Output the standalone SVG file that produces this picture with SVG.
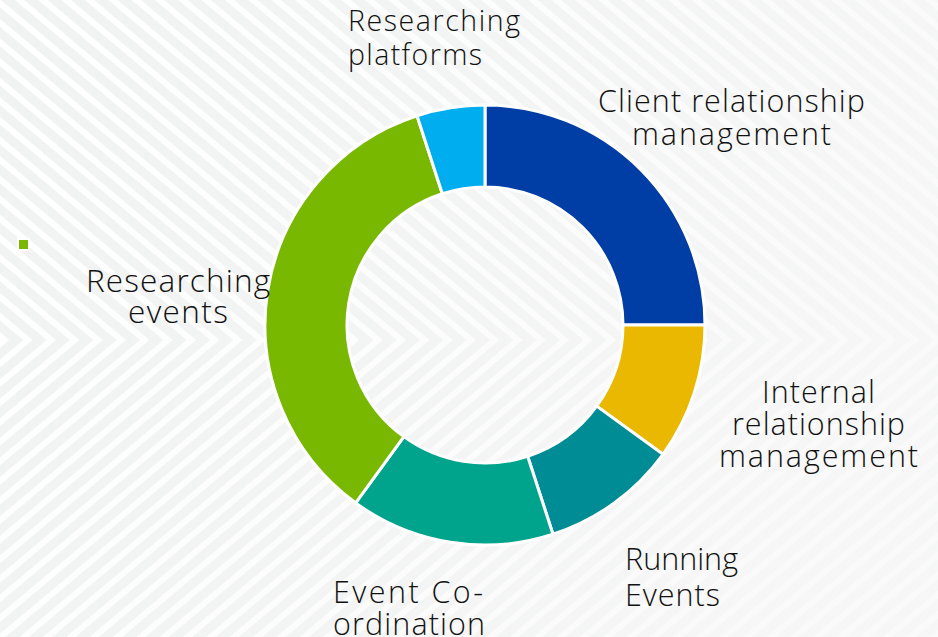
<svg xmlns="http://www.w3.org/2000/svg" width="938" height="637" viewBox="0 0 938 637">
  <defs>
    <pattern id="stripeTop" width="15" height="15" patternUnits="userSpaceOnUse" patternTransform="translate(0,340) rotate(-50)">
      <rect x="0" y="0" width="6" height="15" fill="#ffffff"/>
    </pattern>
    <pattern id="stripeBot" width="15" height="15" patternUnits="userSpaceOnUse" patternTransform="translate(0,340) rotate(50)">
      <rect x="0" y="0" width="6" height="15" fill="#ffffff"/>
    </pattern>
    <linearGradient id="fade" x1="0" y1="0" x2="1" y2="0.3">
      <stop offset="0" stop-color="#f7f7f7" stop-opacity="0"/>
      <stop offset="0.55" stop-color="#f7f7f7" stop-opacity="0.35"/>
      <stop offset="1" stop-color="#f8f8f8" stop-opacity="0.75"/>
    </linearGradient>
    <style>
      .lbl { font-family: "Open Sans", "Liberation Sans", sans-serif; font-weight: 300; font-size: 30.5px; fill: #111111; }
      .sm { font-size: 28.5px; }
      .lg { font-size: 31.5px; }
      .seg { stroke: #ffffff; stroke-width: 3; stroke-linejoin: miter; }
    </style>
  </defs>

  <!-- background -->
  <rect x="0" y="0" width="938" height="637" fill="#f1f2f2"/>
  <rect x="0" y="0" width="938" height="340" fill="url(#stripeTop)"/>
  <rect x="0" y="340" width="938" height="297" fill="url(#stripeBot)"/>
  <rect x="0" y="0" width="938" height="637" fill="url(#fade)"/>

  <!-- donut segments -->
  <g id="seg-client">
    <path class="seg" fill="#003da5" d="M485,105 A220,220 0 0 1 705,325 L623,325 A138,138 0 0 0 485,187 Z"/>
  </g>
  <g id="seg-internal">
    <path class="seg" fill="#eab800" d="M705,325 A220,220 0 0 1 662.98,454.32 L596.64,406.12 A138,138 0 0 0 623,325 Z"/>
  </g>
  <g id="seg-running">
    <path class="seg" fill="#008c95" d="M662.98,454.32 A220,220 0 0 1 552.98,534.24 L527.64,456.25 A138,138 0 0 0 596.64,406.12 Z"/>
  </g>
  <g id="seg-coordination">
    <path class="seg" fill="#00a38b" d="M552.98,534.24 A220,220 0 0 1 355.68,502.98 L403.88,436.64 A138,138 0 0 0 527.64,456.25 Z"/>
  </g>
  <g id="seg-events">
    <path class="seg" fill="#78b800" d="M355.68,502.98 A220,220 0 0 1 417.02,115.76 L442.36,193.75 A138,138 0 0 0 403.88,436.64 Z"/>
  </g>
  <g id="seg-platforms">
    <path class="seg" fill="#00aeef" d="M417.02,115.76 A220,220 0 0 1 485,105 L485,187 A138,138 0 0 0 442.36,193.75 Z"/>
  </g>

  <!-- legend marker -->
  <g id="legend-marker">
    <rect x="18" y="239" width="11" height="11" fill="#78b800" stroke="#ffffff" stroke-width="2"/>
  </g>

  <!-- labels -->
  <g id="label-platforms">
    <text class="lbl sm" x="348" y="31" textLength="172" lengthAdjust="spacing">Researching</text>
    <text class="lbl sm" x="348" y="65" textLength="134" lengthAdjust="spacing">platforms</text>
  </g>
  <g id="label-client">
    <text class="lbl" x="598" y="112" textLength="267" lengthAdjust="spacing">Client relationship</text>
    <text class="lbl" x="632" y="145" textLength="199" lengthAdjust="spacing">management</text>
  </g>
  <g id="label-internal">
    <text class="lbl" x="762" y="403" textLength="113" lengthAdjust="spacing">Internal</text>
    <text class="lbl" x="732" y="435" textLength="173" lengthAdjust="spacing">relationship</text>
    <text class="lbl" x="719" y="467" textLength="199" lengthAdjust="spacing">management</text>
  </g>
  <g id="label-running">
    <text class="lbl" x="625" y="570" textLength="113" lengthAdjust="spacing">Running</text>
    <text class="lbl" x="625" y="606" textLength="95" lengthAdjust="spacing">Events</text>
  </g>
  <g id="label-coordination">
    <text class="lbl" x="333" y="603" textLength="150" lengthAdjust="spacing">Event Co-</text>
    <text class="lbl" x="333" y="635" textLength="152" lengthAdjust="spacing">ordination</text>
  </g>
  <g id="label-events">
    <text class="lbl lg" x="86" y="292" textLength="184" lengthAdjust="spacing">Researching</text>
    <text class="lbl lg" x="128" y="323" textLength="100" lengthAdjust="spacing">events</text>
  </g>
</svg>
